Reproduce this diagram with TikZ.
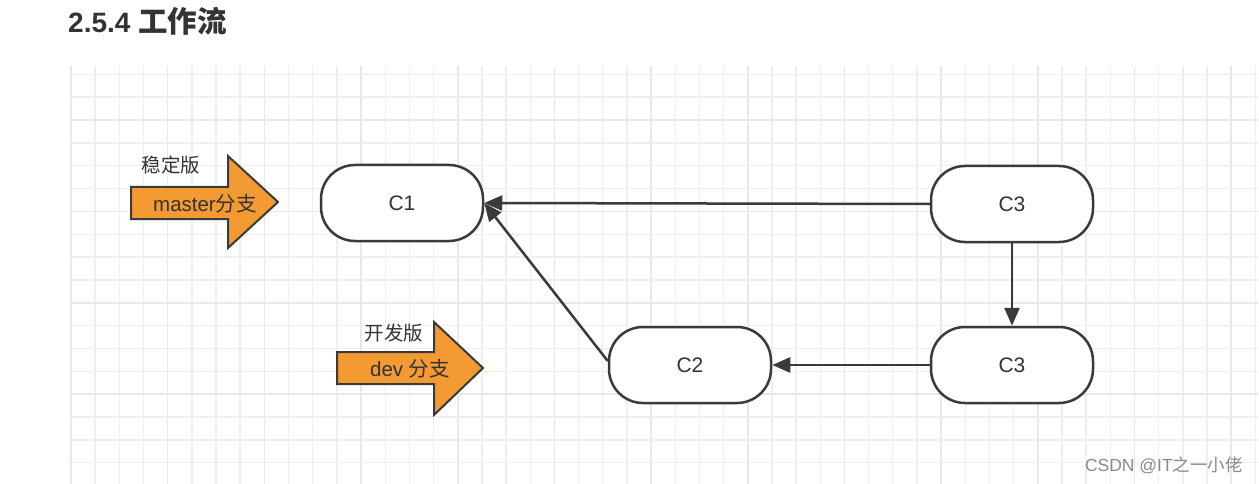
\documentclass[tikz,border=0pt]{standalone}
\usepackage{fontspec}
\setmainfont{Liberation Sans}
\newfontfamily\cjk{Noto Sans CJK SC}
\usetikzlibrary{arrows.meta}
\definecolor{edgec}{HTML}{3A3A3A}
\definecolor{txtc}{HTML}{333333}
\definecolor{orangef}{HTML}{F39A33}
\definecolor{gridminor}{HTML}{EFEFEF}
\definecolor{gridmajor}{HTML}{E8E8E8}
\definecolor{wmark}{HTML}{8A8A8A}
\tikzset{
  commit/.style={draw=edgec, line width=2.5pt, fill=white, rounded corners=34pt,
    minimum width=162pt, minimum height=76pt, text=txtc,
    font=\fontsize{21}{24}\selectfont},
  link/.style={draw=edgec, line width=2.5pt, -{Triangle[length=18pt,width=15pt]}},
  bigarrow/.style={draw=edgec, line width=2pt, fill=orangef, line join=miter},
  arrowtext/.style={text=txtc, font=\fontsize{20.5}{24}\selectfont},
  labeltext/.style={text=txtc, font=\fontsize{19.5}{22}\selectfont\cjk},
  minorline/.style={draw=gridminor, line width=1.4pt},
  majorline/.style={draw=gridmajor, line width=1.6pt}
}
\begin{document}
\begin{tikzpicture}[x=1pt,y=-1pt]
\useasboundingbox (0,0) rectangle (1259,484);
\fill[white] (0,0) rectangle (1259,484);
% grid
\begin{scope}
\clip (70,66) rectangle (1258,484);
\foreach \i in {0,...,49} {
  \pgfmathtruncatemacro{\m}{mod(\i,4)}
  \ifnum\m=0
    \draw[majorline] ({71+\i*24.17},66) -- ++(0,420);
  \else
    \draw[minorline] ({71+\i*24.17},66) -- ++(0,420);
  \fi
}
\foreach \j in {0,...,19} {
  \pgfmathtruncatemacro{\m}{mod(\j,4)}
  \ifnum\m=3
    \draw[majorline] (70,{51.45+\j*22.85}) -- ++(1190,0);
  \else
    \draw[minorline] (70,{51.45+\j*22.85}) -- ++(1190,0);
  \fi
}
\end{scope}
% title
\node[anchor=base west, inner sep=0, text=txtc, font=\fontsize{28}{30}\selectfont\bfseries] (title) at (68,33) {2.5.4 {\cjk\fontsize{29.5}{30}\selectfont 工作流}};
% commits
\node[commit] (c1) at (402,203) {C1};
\node[commit] (c3a) at (1012,204) {C3};
\node[commit] (c3b) at (1012,365) {C3};
\node[commit] (c2) at (690,365) {C2};
% connectors
\draw[link] (c3a.west) -- (c1.east);
\draw[link] ([yshift=4pt]c2.west) -- (c1.east);
\draw[link] (c3a.south) -- (c3b.north);
\draw[link] (c3b.west) -- (c2.east);
% orange arrows
\draw[bigarrow] (131,187) -- (228,187) -- (228,156) -- (278,202) -- (228,248) -- (228,219) -- (131,219) -- cycle;
\node[arrowtext] (master) at (205,204) {master{\cjk 分支}};
\node[labeltext] (stable) at (171,165) {稳定版};
\draw[bigarrow] (337,352) -- (434,352) -- (434,322) -- (483,368) -- (434,415) -- (434,384) -- (337,384) -- cycle;
\node[arrowtext] (dev) at (410,369) {dev {\cjk 分支}};
\node[labeltext] (devlabel) at (394,333) {开发版};
% watermark
\node[anchor=east, inner sep=0, text=wmark, font=\fontsize{17.5}{20}\selectfont] (wm) at (1243,465) {CSDN @IT{\cjk 之一小佬}};
\end{tikzpicture}
\end{document}
